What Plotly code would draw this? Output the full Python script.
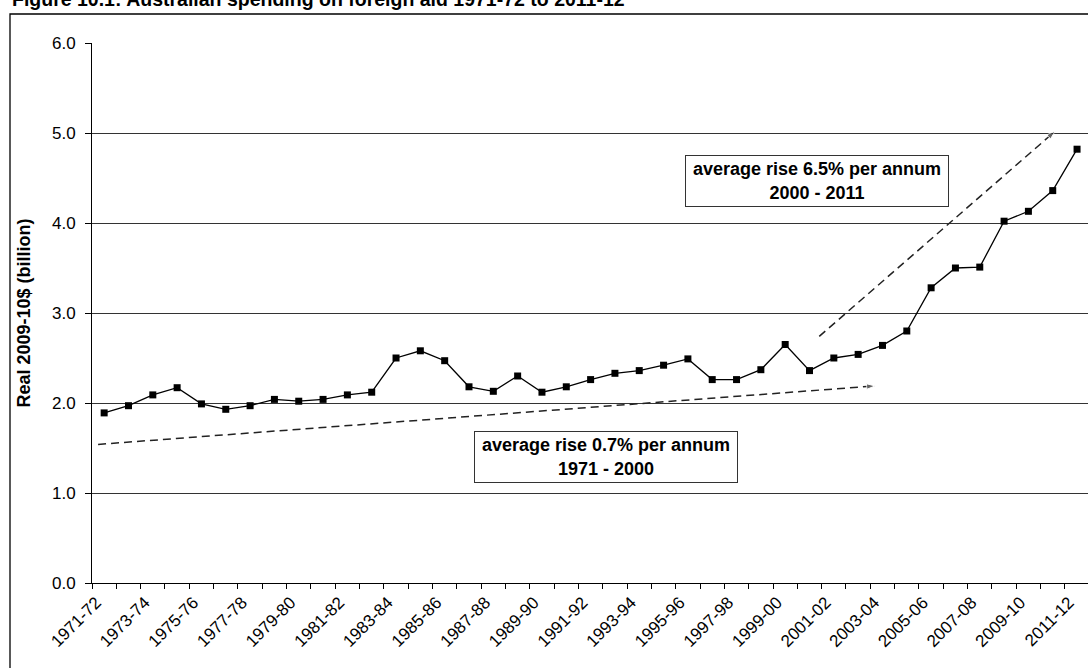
import plotly.graph_objects as go

# ---- data ----
years = ["1971-72", "1972-73", "1973-74", "1974-75", "1975-76", "1976-77", "1977-78",
         "1978-79", "1979-80", "1980-81", "1981-82", "1982-83", "1983-84", "1984-85",
         "1985-86", "1986-87", "1987-88", "1988-89", "1989-90", "1990-91", "1991-92",
         "1992-93", "1993-94", "1994-95", "1995-96", "1996-97", "1997-98", "1998-99",
         "1999-00", "2000-01", "2001-02", "2002-03", "2003-04", "2004-05", "2005-06",
         "2006-07", "2007-08", "2008-09", "2009-10", "2010-11", "2011-12"]
aid = [1.89, 1.97, 2.09, 2.17, 1.99, 1.93, 1.97, 2.04, 2.02, 2.04,
       2.09, 2.12, 2.50, 2.58, 2.47, 2.18, 2.13, 2.30, 2.12, 2.18,
       2.26, 2.33, 2.36, 2.42, 2.49, 2.26, 2.26, 2.37, 2.65, 2.36,
       2.50, 2.54, 2.64, 2.80, 3.28, 3.50, 3.51, 4.02, 4.13, 4.36, 4.82]

# trend arrows (category index, value)
trend1_x = [-0.25, 31.7]
trend1_y = [1.54, 2.19]
trend2_x = [29.4, 39.1]
trend2_y = [2.74, 5.02]

y_ticks = [0, 1, 2, 3, 4, 5, 6]
label_every = 2

title_text = "Figure 10.1: Australian spending on foreign aid 1971-72 to 2011-12"
ytitle = "Real 2009-10$ (billion)"
box1_text = "average rise 0.7% per annum<br>1971 - 2000"
box2_text = "average rise 6.5% per annum<br>2000 - 2011"

# ---- figure ----
idx = list(range(len(years)))
FONT = "Liberation Sans, Arial, sans-serif"

fig = go.Figure()
fig.add_trace(go.Scatter(
    x=idx, y=aid, mode="lines+markers",
    line=dict(color="black", width=1.3),
    marker=dict(symbol="square", size=7, color="black"),
    showlegend=False, hoverinfo="skip", cliponaxis=False))

for tx, ty in [(trend1_x, trend1_y), (trend2_x, trend2_y)]:
    fig.add_trace(go.Scatter(
        x=tx, y=ty, mode="lines+markers",
        line=dict(color="#222222", width=1.5, dash="8px,5px"),
        marker=dict(symbol=["circle", "arrow"], size=[0.1, 9], color="#222222",
                    angleref="previous"),
        showlegend=False, hoverinfo="skip"))

# plot area pixel geometry
L, R, T, B = 92, 0, 43, 85
W, H = 1088, 668
pw, ph = W - L - R, H - T - B

def px_x(p):
    return (p - L) / pw

def px_y(p):
    return (H - B - p) / ph

fig.update_layout(
    width=W, height=H,
    margin=dict(l=L, r=R, t=T, b=B, pad=0, autoexpand=False),
    paper_bgcolor="white", plot_bgcolor="white",
    font=dict(family=FONT, size=16, color="black"),
    xaxis=dict(
        range=[-0.5, 40.45],
        automargin=False,
        tickmode="array",
        tickvals=idx[::label_every],
        ticktext=years[::label_every],
        tickangle=-45,
        ticks="",
        ticklabelshift=-8,
        ticklabelstandoff=2,
        showgrid=False, zeroline=False,
        showline=True, linecolor="black", linewidth=1,
        tickfont=dict(size=17, family=FONT, color="black"),
        minor=dict(tick0=-0.5, dtick=1, ticks="outside", ticklen=5,
                   tickcolor="black", tickwidth=1, showgrid=False),
    ),
    yaxis=dict(
        range=[0, 6],
        automargin=False,
        tickmode="array", tickvals=y_ticks,
        tickformat=".1f",
        ticks="outside", ticklen=6, tickcolor="black",
        showgrid=True, gridcolor="#333333", gridwidth=1,
        zeroline=False,
        showline=True, linecolor="black", linewidth=1,
        tickfont=dict(size=17, family=FONT, color="black"),
        ticklabelstandoff=6,
        title=dict(text="<b>" + ytitle + "</b>", font=dict(size=18, family=FONT),
                   standoff=16),
    ),
)

# outer chart frame (cropped at right and bottom)
fig.add_shape(type="rect", xref="paper", yref="paper",
              x0=px_x(10), x1=px_x(1100), y0=px_y(700), y1=px_y(14),
              line=dict(color="black", width=1.3), fillcolor="rgba(0,0,0,0)")

# cropped title
fig.add_annotation(xref="paper", yref="paper", x=px_x(10), y=px_y(12.5),
                   xanchor="left", yanchor="bottom", showarrow=False,
                   text="<b>" + title_text + "</b>",
                   font=dict(size=19.5, family=FONT, color="black"))

for txt, cx, cy in [(box1_text, 20.64, 1.40), (box2_text, 29.31, 4.47)]:
    fig.add_annotation(x=cx, y=cy, xref="x", yref="y", showarrow=False,
                       text="<b>" + txt + "</b>",
                       font=dict(size=18, family=FONT, color="black"),
                       align="center", bgcolor="white",
                       bordercolor="#333333", borderwidth=1, borderpad=2,
                       width=258, height=46)

fig.write_html("out.html",
               config={"displayModeBar": False},
               post_script="document.body.style.margin='0px';document.body.style.overflow='hidden';")
